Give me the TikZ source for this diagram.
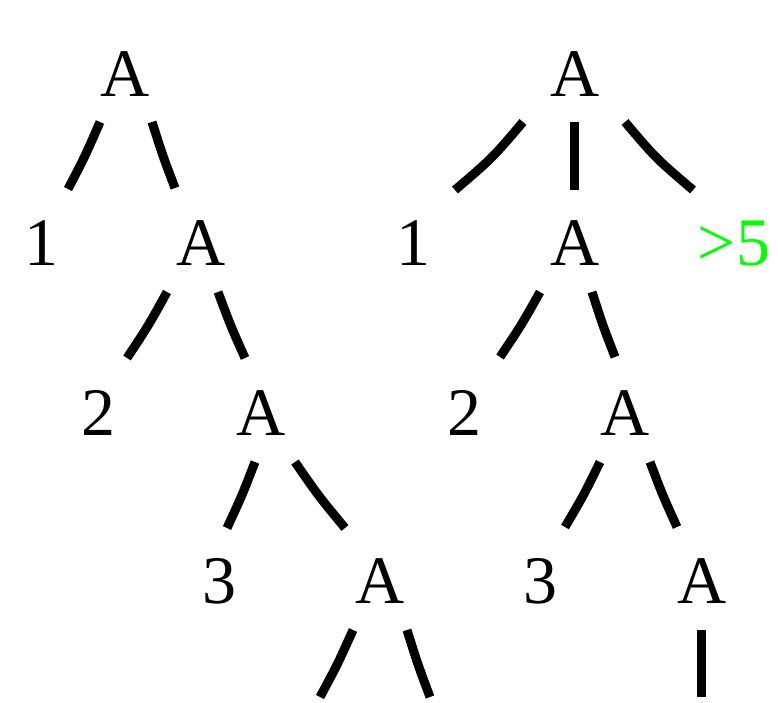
\documentclass[tikz,border=0pt]{standalone}
\usepackage{fontspec}
\setmainfont{Liberation Serif}
\begin{document}
\begin{tikzpicture}[x=1pt,y=-1pt,
  lbl/.style={anchor=base,inner sep=0pt,font=\fontsize{68}{80}\selectfont},
  edge/.style={line width=9pt,line cap=butt}]
\definecolor{brightgreen}{RGB}{0,255,0}
\useasboundingbox (0,0) rectangle (778,703);
% left tree
\node[lbl] (LA1) at (125,97) {A};
\node[lbl] (L1)  at (41,265) {1};
\node[lbl] (LA2) at (201,265) {A};
\node[lbl] (L2)  at (98,435) {2};
\node[lbl] (LA3) at (261,435) {A};
\node[lbl] (L3)  at (219,603) {3};
\node[lbl] (LA4) at (380,603) {A};
% right tree
\node[lbl] (RA1) at (575,97) {A};
\node[lbl] (R1)  at (413,265) {1};
\node[lbl] (RA2) at (575,265) {A};
\node[lbl,text=brightgreen] (R5) at (734,265) {>5};
\node[lbl] (R2)  at (464,435) {2};
\node[lbl] (RA3) at (625,435) {A};
\node[lbl] (R3)  at (540,603) {3};
\node[lbl] (RA4) at (702,603) {A};
% gently curved edges (left tree and lower levels)
\foreach \xa/\ya/\xb/\yb in {
  100/122/68/189, 152/122/175/188,
  167/292/127/358, 218/292/245/358,
  255/462/227/528, 295/462/345/528,
  353/630/320/697, 407/630/430/697,
  540/292/500/357, 592/292/615/357,
  600/462/565/527, 650/462/677/527}
  \draw[edge] (\xa,\ya) .. controls ({\xa+0.47*(\xb-\xa)},{\ya+0.515*(\yb-\ya)}) .. (\xb,\yb);
% curved edges of the right root
\foreach \xa/\ya/\xb/\yb in {523/122/455/190, 625/122/693/190}
  \draw[edge] (\xa,\ya) .. controls ({\xa+0.45*(\xb-\xa)},{\ya+0.53*(\yb-\ya)}) .. (\xb,\yb);
% straight edges
\coordinate (v1a) at (574,122); \coordinate (v1b) at (574,190);
\coordinate (v2a) at (701,630); \coordinate (v2b) at (701,697);
\draw[edge] (v1a) -- (v1b);
\draw[edge] (v2a) -- (v2b);
\end{tikzpicture}
\end{document}
